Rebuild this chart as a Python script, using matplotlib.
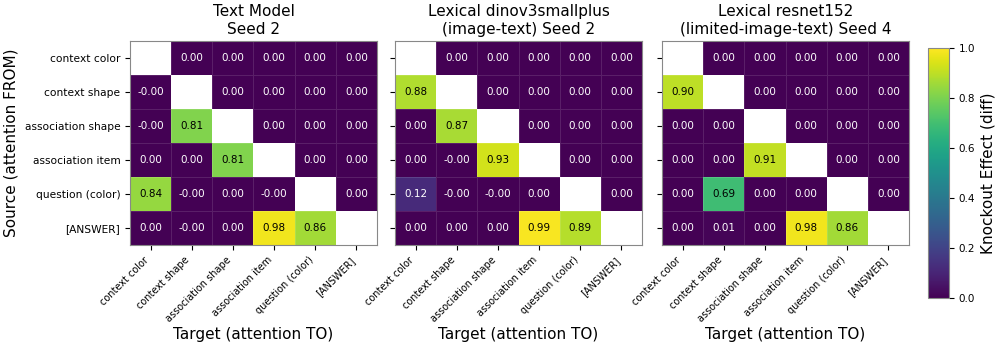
import numpy as np
import matplotlib
matplotlib.use("Agg")
import matplotlib.pyplot as plt

labels = ["context color", "context shape", "association shape",
          "association item", "question (color)", "[ANSWER]"]

titles = ["Text Model\nSeed 2",
          "Lexical dinov3smallplus\n(image-text) Seed 2",
          "Lexical resnet152\n(limited-image-text) Seed 4"]

nan = np.nan
text_model = [
    [nan, 0.00, 0.00, 0.00, 0.00, 0.00],
    [-0.00, nan, 0.00, 0.00, 0.00, 0.00],
    [-0.00, 0.81, nan, 0.00, 0.00, 0.00],
    [0.00, 0.00, 0.81, nan, 0.00, 0.00],
    [0.84, -0.00, 0.00, -0.00, nan, 0.00],
    [0.00, -0.00, 0.00, 0.98, 0.86, nan],
]
dinov3 = [
    [nan, 0.00, 0.00, 0.00, 0.00, 0.00],
    [0.88, nan, 0.00, 0.00, 0.00, 0.00],
    [0.00, 0.87, nan, 0.00, 0.00, 0.00],
    [0.00, -0.00, 0.93, nan, 0.00, 0.00],
    [0.12, -0.00, -0.00, 0.00, nan, 0.00],
    [0.00, 0.00, 0.00, 0.99, 0.89, nan],
]
resnet = [
    [nan, 0.00, 0.00, 0.00, 0.00, 0.00],
    [0.90, nan, 0.00, 0.00, 0.00, 0.00],
    [0.00, 0.00, nan, 0.00, 0.00, 0.00],
    [0.00, 0.00, 0.91, nan, 0.00, 0.00],
    [0.00, 0.69, 0.00, 0.00, nan, 0.00],
    [0.00, 0.01, 0.00, 0.98, 0.86, nan],
]
# cells displayed as "-0.00" (tiny negative values)
neg_zero = [
    [(1, 0), (2, 0), (4, 1), (4, 3), (5, 1)],
    [(3, 1), (4, 1), (4, 2)],
    [],
]

datasets = [text_model, dinov3, resnet]

fig = plt.figure(figsize=(9.96, 3.47), dpi=100)
lefts = [0.1305, 0.3966, 0.6647]
w = 0.248
bottom = 0.293
h = 0.589
cmap = plt.get_cmap("viridis").copy()
cmap.set_bad("white")

for k, (data, title) in enumerate(zip(datasets, titles)):
    ax = fig.add_axes([lefts[k], bottom, w, h])
    arr = np.array(data, dtype=float)
    m = np.ma.masked_invalid(arr)
    im = ax.pcolormesh(np.arange(7), np.arange(7), m, cmap=cmap, vmin=0, vmax=1,
                       edgecolors=(1, 1, 1, 0.12), linewidth=0.4)
    ax.set_xlim(0, 6)
    ax.set_ylim(6, 0)
    n = len(labels)
    for i in range(n):
        for j in range(n):
            v = arr[i, j]
            if np.isnan(v):
                continue
            s = f"{v:.2f}"
            if (i, j) in neg_zero[k]:
                s = "-0.00"
            col = "black" if v > 0.5 else "white"
            ax.text(j + 0.5, i + 0.5, s, ha="center", va="center",
                    fontsize=7.5, color=col)
    ax.set_xticks(np.arange(n) + 0.5)
    ax.set_yticks(np.arange(n) + 0.5)
    ax.set_xticklabels(labels, rotation=45, ha="right", fontsize=7.0)
    if k == 0:
        ax.set_yticklabels(labels, fontsize=7.7)
        ax.set_ylabel("Source (attention FROM)", fontsize=11)
    else:
        ax.set_yticklabels([])
    ax.set_xlabel("Target (attention TO)", fontsize=11, labelpad=2)
    ax.set_title(title, fontsize=11, pad=5, linespacing=1.25)
    for sp in ax.spines.values():
        sp.set_color("#888888")

cax = fig.add_axes([0.9317, 0.141, 0.021, 0.72])
cb = fig.colorbar(im, cax=cax)
cb.set_ticks([0.0, 0.2, 0.4, 0.6, 0.8, 1.0])
cb.ax.tick_params(labelsize=7.5)
cb.set_label("Knockout Effect (diff)", fontsize=11)
cb.outline.set_edgecolor("#888888")

fig.savefig("out.png", dpi=100)
